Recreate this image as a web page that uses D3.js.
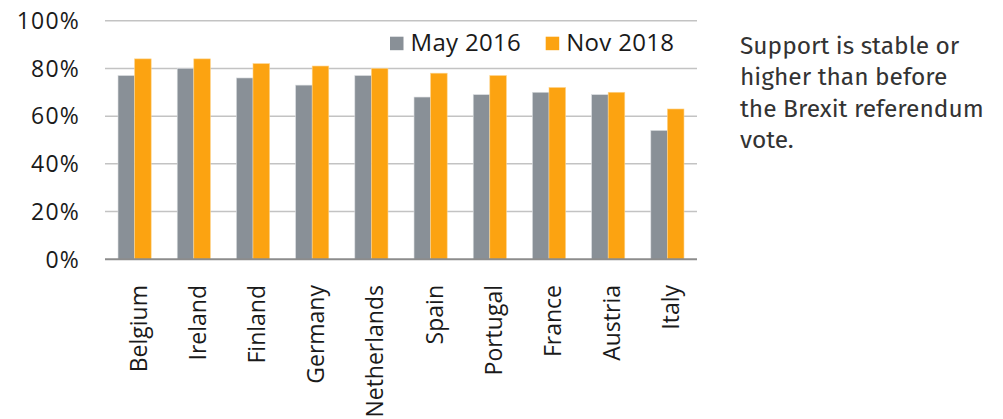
<!DOCTYPE html>
<html>
<head>
<meta charset="utf-8">
<script src="https://cdn.jsdelivr.net/npm/d3@7"></script>
<style>
  html, body { margin: 0; padding: 0; background: #fff; }
  svg { display: block; }
</style>
</head>
<body>
<svg id="chart" width="1003" height="419"></svg>
<script>
const categories = ["Belgium", "Ireland", "Finland", "Germany", "Netherlands", "Spain", "Portugal", "France", "Austria", "Italy"];
const seriesNames = ["May 2016", "Nov 2018"];
const may2016 = [77, 80, 76, 73, 77, 68, 69, 70, 69, 54];
const nov2018 = [84, 84, 82, 81, 80, 78, 77, 72, 70, 63];
const yTicks = [0, 20, 40, 60, 80, 100];
const colors = ["#899097", "#fca311"];
const noteLines = ["Support is stable or", "higher than before", "the Brexit referendum", "vote."];

const seriesValues = [may2016, nov2018];
const svg = d3.select("#chart");
const font = "'Open Sans', 'Noto Sans', sans-serif";

const plotLeft = 105, plotRight = 697, plotTop = 20.7, plotBottom = 259.3;
const x = d3.scaleBand().domain(categories).range([plotLeft, plotRight]).paddingInner(0.44).paddingOuter(0.22);
const x1 = d3.scaleBand().domain(seriesNames).range([0, x.bandwidth()]).padding(0);
const y = d3.scaleLinear().domain([0, 100]).range([plotBottom, plotTop]);

// gridlines
svg.append("g").selectAll("line").data(yTicks.filter(d => d > 0)).join("line")
  .attr("x1", plotLeft).attr("x2", plotRight)
  .attr("y1", d => y(d)).attr("y2", d => y(d))
  .attr("stroke", "#c3c3c3").attr("stroke-width", 1.5);

// y tick labels
svg.append("g").selectAll("text").data(yTicks).join("text")
  .attr("x", 80).attr("y", d => y(d))
  .attr("dy", "0.36em")
  .attr("text-anchor", "end")
  .attr("font-family", font).attr("font-size", 23).attr("letter-spacing", 1.2)
  .attr("fill", "#1a1a1a")
  .text(d => d + "%");

// bars
const groups = svg.append("g").selectAll("g").data(categories).join("g")
  .attr("transform", d => `translate(${x(d)},0)`);
groups.selectAll("rect")
  .data((c, i) => seriesNames.map((s, k) => ({ s, k, v: seriesValues[k][i] })))
  .join("rect")
  .attr("x", d => x1(d.s))
  .attr("width", x1.bandwidth())
  .attr("y", d => y(d.v))
  .attr("height", d => y(0) - y(d.v))
  .attr("fill", d => colors[d.k])
  .attr("stroke", d => d.k === 0 ? "#d9dcdf" : "#fdd38a")
  .attr("stroke-width", 0.6);

// baseline
svg.append("line").attr("x1", plotLeft).attr("x2", plotRight)
  .attr("y1", y(0)).attr("y2", y(0))
  .attr("stroke", "#8c8c8c").attr("stroke-width", 2);

// x labels rotated
svg.append("g").selectAll("text").data(categories).join("text")
  .attr("transform", d => `translate(${x(d) + x.bandwidth() / 2 + 12},285) rotate(-90)`)
  .attr("text-anchor", "end")
  .attr("font-family", font).attr("font-size", 23).attr("fill", "#1a1a1a")
  .text(d => d);

// legend
const legendX = [390, 545.7];
const lg = svg.append("g").selectAll("g").data(seriesNames).join("g")
  .attr("transform", (d, i) => `translate(${legendX[i]},0)`);
lg.append("rect").attr("x", 0).attr("y", 36.7).attr("width", 13.5).attr("height", 13.5)
  .attr("fill", (d, i) => colors[i]);
lg.append("text").attr("x", 20.5).attr("y", 51)
  .attr("font-family", font).attr("font-size", 24).attr("letter-spacing", 0.3)
  .attr("fill", "#1a1a1a")
  .text(d => d);

// annotation
svg.append("g").selectAll("text").data(noteLines).join("text")
  .attr("x", 740).attr("y", (d, i) => 53.5 + i * 31.6)
  .attr("font-family", "'Fira Sans', 'Noto Sans', 'Open Sans', sans-serif")
  .attr("font-size", 24.5).attr("fill", "#333")
  .text(d => d);
</script>
</body>
</html>
